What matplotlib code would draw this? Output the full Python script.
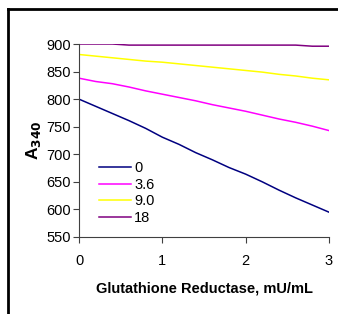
import matplotlib.pyplot as plt
from matplotlib.lines import Line2D

plt.rcParams['font.family'] = ['Liberation Sans', 'DejaVu Sans']

gr = [0.0, 0.2, 0.4, 0.6, 0.8, 1.0, 1.2, 1.4, 1.6, 1.8, 2.0, 2.2, 2.4, 2.6, 2.8, 3.0]
a_0 = [800, 787, 774, 761, 747, 731, 718, 703, 690, 676, 664, 650, 635, 621, 608, 595]
a_36 = [838, 832, 828, 822, 815, 809, 803, 797, 790, 784, 778, 771, 764, 758, 751, 743]
a_90 = [881, 878, 875, 872, 869, 867, 864, 861, 858, 855, 852, 849, 845, 842, 838, 835]
a_18 = [900, 900, 900, 898, 898, 898, 898, 898, 898, 898, 898, 898, 898, 898, 896, 896]

labels = ['0', '3.6', '9.0', '18']
colors = ['#000080', '#FF00FF', '#FFFF00', '#800080']
series = [a_0, a_36, a_90, a_18]

fig = plt.figure(figsize=(3.38, 3.14), dpi=100)

# 外枠（左と上のみ見える）
fig.add_artist(Line2D([8/338, 8/338], [0, 1 - 9/314], color='black', lw=2))
fig.add_artist(Line2D([8/338, 1], [1 - 9/314, 1 - 9/314], color='black', lw=2))

ax = fig.add_axes([79/338, 1 - 237/314, 250/338, 193/314])
for y, c, lab in zip(series, colors, labels):
    ax.plot(gr, y, color=c, lw=1.1, label=lab)

ax.set_xlim(0, 3)
ax.set_ylim(550, 900)
ax.set_xticks([0, 1, 2, 3])
ax.set_yticks(range(550, 901, 50))
ax.spines['top'].set_visible(False)
ax.spines['right'].set_visible(False)
ax.spines['left'].set_color('#404040')
ax.spines['bottom'].set_color('#404040')
ax.tick_params(axis='y', direction='out', length=4, labelsize=10.5, color='#404040', pad=2)
ax.tick_params(axis='x', direction='out', length=4, labelsize=10.5, color='#404040', pad=8)

ax.set_xlabel('Glutathione Reductase, mU/mL', fontsize=10.5, fontweight='bold', labelpad=10)
ax.set_ylabel('A$_{\\mathbf{340}}$', fontsize=12.5, fontweight='bold', labelpad=2)

ax.legend(loc='upper left', bbox_to_anchor=(0.04, 0.445), frameon=False, fontsize=10.5,
          handlelength=2.2, handletextpad=0.2, labelspacing=0.17, borderaxespad=0.3)

plt.savefig('out.png', dpi=100)
